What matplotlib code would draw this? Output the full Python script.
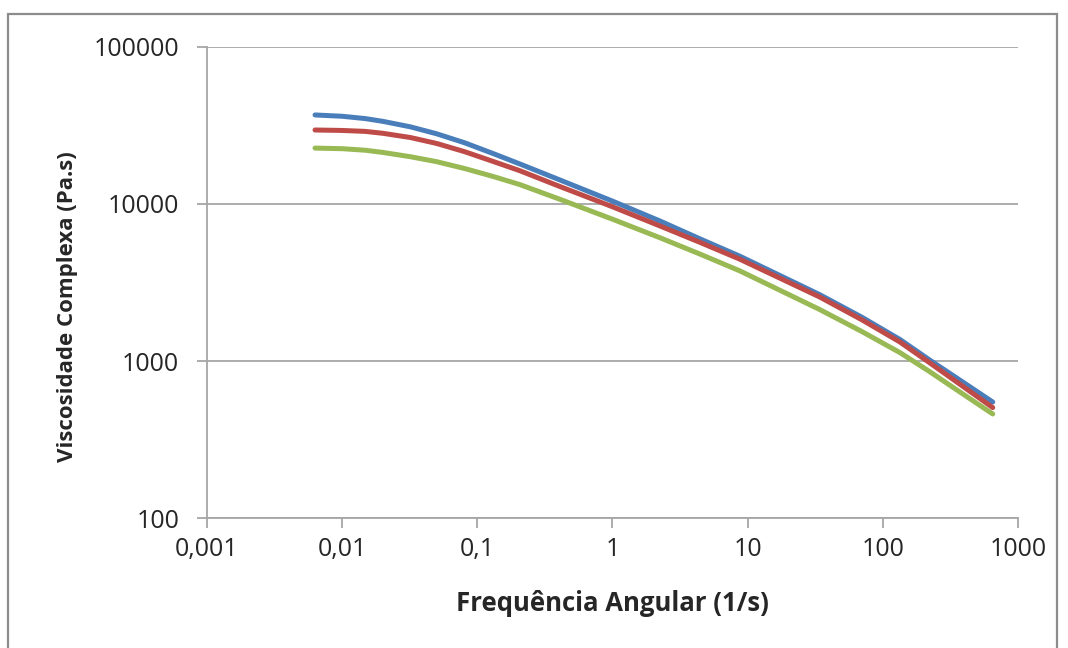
import matplotlib.pyplot as plt
from matplotlib.patches import Rectangle

# dados
freq = [0.0063, 0.01, 0.0148, 0.02, 0.032, 0.05, 0.081, 0.13, 0.206, 0.41, 1.0, 2.24,
        4.43, 8.75, 34, 70, 134, 220, 350, 650]
visc_azul = [36900, 36200, 35000, 33600, 31000, 28000, 24500, 21000, 18000, 14200, 10430, 7800,
             6000, 4650, 2650, 1900, 1370, 1020, 782, 548]
visc_vermelho = [29600, 29400, 29000, 28200, 26500, 24300, 21500, 18700, 16300, 12900, 9600, 7250,
                 5700, 4450, 2560, 1830, 1320, 980, 738, 505]
visc_verde = [22700, 22500, 22000, 21300, 20000, 18600, 16800, 15000, 13300, 10700, 8000, 6100,
              4800, 3750, 2130, 1540, 1130, 860, 657, 460]

xticks = [0.001, 0.01, 0.1, 1, 10, 100, 1000]
xtick_labels = ['0,001', '0,01', '0,1', '1', '10', '100', '1000']
yticks = [100, 1000, 10000, 100000]
ytick_labels = ['100', '1000', '10000', '100000']

plt.rcParams['font.family'] = ['Open Sans', 'DejaVu Sans']

fig = plt.figure(figsize=(10.68, 6.48), dpi=100)
ax = fig.add_axes([0.1938, 0.2006, 0.7594, 0.7269])

grid_color = '#a6a6a6'
for serie, cor in [(visc_azul, '#4a7ebb'), (visc_vermelho, '#be4b48'), (visc_verde, '#98b954')]:
    ax.plot(freq, serie, color=cor, lw=3.6, solid_capstyle='round', solid_joinstyle='round')

ax.set_xscale('log')
ax.set_yscale('log')
ax.set_xlim(0.001, 1000)
ax.set_ylim(100, 100000)
ax.set_xticks(xticks)
ax.set_xticklabels(xtick_labels)
ax.set_yticks(yticks)
ax.set_yticklabels(ytick_labels)
ax.minorticks_off()

ax.yaxis.grid(True, color=grid_color, lw=1.3)
ax.set_axisbelow(True)
for s in ['top', 'right']:
    ax.spines[s].set_visible(False)
for s in ['left', 'bottom']:
    ax.spines[s].set_color(grid_color)
    ax.spines[s].set_linewidth(1.3)
ax.tick_params(axis='both', direction='out', length=7, width=1.3, color=grid_color,
               labelsize=18, labelcolor='#262626')
ax.tick_params(axis='x', pad=7)
ax.tick_params(axis='y', pad=13)

ax.set_xlabel('Frequência Angular (1/s)', fontsize=18.5, fontweight='bold', color='#262626', labelpad=20)
ax.set_ylabel('Viscosidade Complexa (Pa.s)', fontsize=16, fontweight='bold', color='#262626')
ax.yaxis.set_label_coords(-0.159, 0.448)

# moldura do grafico
fig.patches.append(Rectangle((8 / 1068, -0.05), 1049 / 1068, 1.05 - 14 / 648,
                             transform=fig.transFigure, fill=False,
                             edgecolor='#8c8c8c', lw=1.6))

fig.savefig('out.png', dpi=100)
